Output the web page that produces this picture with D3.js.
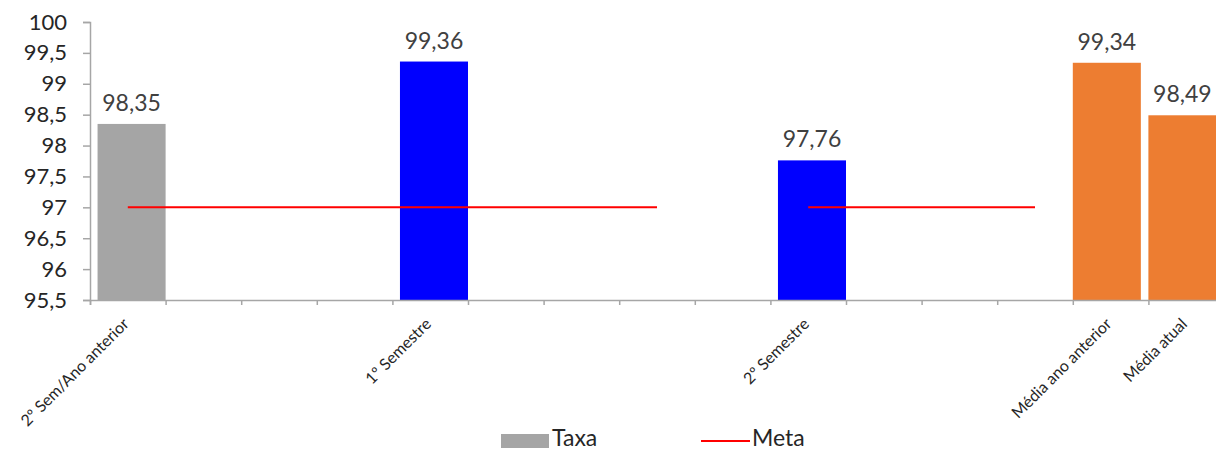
<!DOCTYPE html>
<html>
<head>
<meta charset="utf-8">
<script src="https://cdn.jsdelivr.net/npm/d3@7"></script>
<style>
    body { margin: 0; background: #fff; }
    svg, svg text { font-family: Lato, "Open Sans", sans-serif; }
    .axis path, .axis line { stroke: #a6a6a6; stroke-width: 1.5; }
</style>
</head>
<body>
<svg id="chart"></svg>
<script>
// Chart data (15 category slots, most of them empty like the original sheet)
let labels = ["2º Sem/Ano anterior", "", "", "", "1º Semestre", "", "", "", "",
    "2º Semestre", "", "", "", "Média ano anterior", "Média atual"];
let taxa  = [98.35, null, null, null, 99.36, null, null, null, null, 97.76, null, null, null, null, null];
let media = [null, null, null, null, null, null, null, null, null, null, null, null, null, 99.34, 98.49];
let meta  = [97, 97, 97, 97, 97, 97, 97, 97, null, 97, 97, 97, 97, null, null];
let yTicks = [95.5, 96, 96.5, 97, 97.5, 98, 98.5, 99, 99.5, 100];

let config = {
    svg: { width: 1216, height: 450 },
    plot: { left: 90, top: 22, bottom: 300, right: 1224 }
};

let svg = d3.select("#chart")
    .attr("width", config.svg.width)
    .attr("height", config.svg.height);

let idx = d3.range(labels.length);

// Scales
let x = d3.scaleBand()
    .domain(idx)
    .range([config.plot.left, config.plot.right]);
let xEdges = d3.scaleLinear()
    .domain([0, labels.length])
    .range([config.plot.left, config.plot.right]);
let y = d3.scaleLinear()
    .domain([95.5, 100])
    .range([config.plot.bottom, config.plot.top]);

let fmt = d => String(d).replace(".", ",");
let barW = x.bandwidth() * 0.9;

// Bars
let bars = [];
idx.forEach(i => {
    if (taxa[i] != null) bars.push({ i: i, v: taxa[i], s: "taxa" });
    if (media[i] != null) bars.push({ i: i, v: media[i], s: "media" });
});
let colorOf = d => d.s === "media" ? "#ed7d31" : (d.i === 0 ? "#a5a5a5" : "#0000ff");
// Taxa sits at right of its slot, Media at left (overlapping series in the source)
let barX = d => d.s === "media" ? x(d.i) : x(d.i) + x.bandwidth() - barW;

svg.append("g").selectAll("rect")
    .data(bars)
    .enter().append("rect")
    .attr("x", barX)
    .attr("y", d => y(d.v))
    .attr("width", barW)
    .attr("height", d => y(95.5) - y(d.v))
    .style("fill", colorOf);

svg.append("g").selectAll("text")
    .data(bars)
    .enter().append("text")
    .attr("x", d => barX(d) + barW / 2)
    .attr("y", d => y(d.v) - 13)
    .attr("text-anchor", "middle")
    .style("font-size", "23px")
    .style("fill", "#404040")
    .text(d => fmt(d.v));

// Meta line (with gaps)
let line = d3.line()
    .defined(d => d != null)
    .x((d, i) => x(i) + x.bandwidth() / 2)
    .y(d => y(d));
svg.append("path")
    .datum(meta)
    .attr("d", line)
    .style("fill", "none")
    .style("stroke", "#ff0000")
    .style("stroke-width", 2);

// Y axis
let yAxis = svg.append("g")
    .attr("class", "axis")
    .attr("transform", "translate(" + config.plot.left + ",0)")
    .call(d3.axisLeft(y).tickValues(yTicks).tickSize(7).tickPadding(16).tickFormat(fmt))
    .attr("font-family", null);
yAxis.selectAll("text").style("font-size", "22px").style("fill", "#262626");

// X axis: ticks at slot edges
svg.append("g")
    .attr("class", "axis")
    .attr("transform", "translate(0," + config.plot.bottom + ")")
    .call(d3.axisBottom(xEdges).tickValues(d3.range(labels.length + 1)).tickSize(5).tickFormat(""));

// X labels rotated
let xLab = svg.append("g")
    .attr("transform", "translate(0," + config.plot.bottom + ")")
    .call(d3.axisBottom(x).tickSize(0).tickFormat(i => labels[i]))
    .attr("font-family", null);
xLab.select(".domain").remove();
xLab.selectAll("text")
    .attr("x", 0).attr("y", 0)
    .attr("dy", "0.35em")
    .attr("text-anchor", "end")
    .attr("transform", "translate(-2,21) rotate(-45)")
    .style("font-size", "16px")
    .style("fill", "#262626");

// Legend
let legend = svg.append("g");
legend.append("rect")
    .attr("x", 501).attr("y", 434)
    .attr("width", 48).attr("height", 14)
    .style("fill", "#a5a5a5");
legend.append("text")
    .attr("x", 552).attr("y", 446)
    .style("font-size", "23px").style("fill", "#262626")
    .text("Taxa");
legend.append("line")
    .attr("x1", 701).attr("x2", 750)
    .attr("y1", 441).attr("y2", 441)
    .style("stroke", "#ff0000").style("stroke-width", 2);
legend.append("text")
    .attr("x", 752).attr("y", 446)
    .style("font-size", "23px").style("fill", "#262626")
    .text("Meta");
</script>
</body>
</html>
